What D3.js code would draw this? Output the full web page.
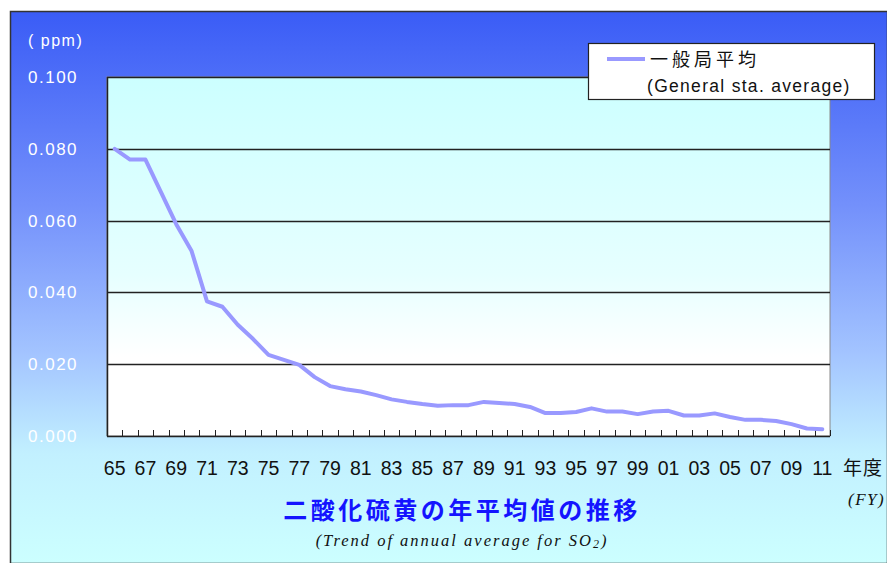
<!DOCTYPE html>
<html>
<head>
<meta charset="utf-8">
<script src="https://cdn.jsdelivr.net/npm/d3@7"></script>
<style>
    html, body { margin: 0; padding: 0; background: #fff; }
    svg { display: block; }
</style>
</head>
<body>
<div id="mainChart"></div>
<script>
// fiscal years 1965 - 2011
const years = d3.range(1965, 2012);
// 一般局平均 (ppm)
const so2Values = [
    0.080, 0.077, 0.077, 0.068, 0.059, 0.0515, 0.0375, 0.036, 0.031, 0.027,
    0.0226, 0.0212, 0.0198, 0.0164, 0.0139, 0.013, 0.0124, 0.0114, 0.0102, 0.0095,
    0.0089, 0.0084, 0.0086, 0.0086, 0.0095, 0.0092, 0.0089, 0.0081, 0.0064, 0.0064,
    0.0067, 0.0077, 0.0068, 0.0068, 0.0061, 0.0068, 0.007, 0.0057, 0.0057, 0.0063,
    0.0053, 0.0045, 0.0045, 0.0042, 0.0033, 0.0021, 0.0019
];
const yTicks = [0, 0.02, 0.04, 0.06, 0.08, 0.1];
const legendLabels = ['一般局平均', '(General sta. average)'];
const titleText = '二酸化硫黄の年平均値の推移';
const subtitleText = '(Trend of annual average for SO';

const width = 887, height = 563;
const margin = { top: 77, right: 57, bottom: 127, left: 107 };
const sansFont = 'Arial, "Liberation Sans", sans-serif';
const jpFont = '"Noto Sans CJK JP", sans-serif';
const serifFont = '"Liberation Serif", "DejaVu Serif", serif';

const svg = d3.select('#mainChart').append('svg')
    .attr('width', width)
    .attr('height', height);

const defs = svg.append('defs');
const bgGrad = defs.append('linearGradient')
    .attr('id', 'bgGrad').attr('x1', 0).attr('y1', 0).attr('x2', 0).attr('y2', 1);
bgGrad.append('stop').attr('offset', '0%').attr('stop-color', '#3a5cf6');
bgGrad.append('stop').attr('offset', '35%').attr('stop-color', '#7390fb');
bgGrad.append('stop').attr('offset', '62%').attr('stop-color', '#a3c4ff');
bgGrad.append('stop').attr('offset', '80%').attr('stop-color', '#c2f0ff');
bgGrad.append('stop').attr('offset', '100%').attr('stop-color', '#ccffff');

const plotGrad = defs.append('linearGradient')
    .attr('id', 'plotGrad').attr('x1', 0).attr('y1', 0).attr('x2', 0).attr('y2', 1);
plotGrad.append('stop').attr('offset', '0%').attr('stop-color', '#ccffff');
plotGrad.append('stop').attr('offset', '55%').attr('stop-color', '#e6ffff');
plotGrad.append('stop').attr('offset', '78%').attr('stop-color', '#ffffff');
plotGrad.append('stop').attr('offset', '100%').attr('stop-color', '#ffffff');

// outer frame
svg.append('rect')
    .attr('x', 10.5).attr('y', 11.5)
    .attr('width', width - 10).attr('height', height - 11)
    .attr('fill', 'url(#bgGrad)')
    .attr('stroke', '#333').attr('stroke-width', 1.5);

const x = d3.scaleBand()
    .domain(years)
    .range([margin.left, width - margin.right]);

const y = d3.scaleLinear()
    .domain([0, 0.1])
    .range([height - margin.bottom, margin.top]);

// plot area
svg.append('rect')
    .attr('x', margin.left).attr('y', margin.top)
    .attr('width', width - margin.left - margin.right)
    .attr('height', height - margin.top - margin.bottom)
    .attr('fill', 'url(#plotGrad)')
    .attr('stroke', '#888').attr('stroke-width', 1);

// grid lines
svg.append('g')
    .selectAll('line')
    .data(yTicks)
    .join('line')
    .attr('x1', margin.left).attr('x2', width - margin.right)
    .attr('y1', d => Math.round(y(d)) + 0.5).attr('y2', d => Math.round(y(d)) + 0.5)
    .attr('stroke', '#222').attr('stroke-width', 1.3);

// y labels
svg.append('g')
    .selectAll('text')
    .data(yTicks)
    .join('text')
    .attr('x', 28)
    .attr('y', d => y(d) + 6)
    .attr('fill', '#fff')
    .attr('font-family', sansFont)
    .attr('font-size', 17)
    .attr('letter-spacing', 1.5)
    .text(d => d3.format('.3f')(d));

svg.append('text')
    .attr('x', 28).attr('y', 46)
    .attr('fill', '#fff')
    .attr('font-family', sansFont)
    .attr('font-size', 16)
    .attr('letter-spacing', 1.5)
    .text('( ppm)');

// axes lines
svg.append('line')
    .attr('x1', margin.left + 0.5).attr('x2', margin.left + 0.5)
    .attr('y1', margin.top).attr('y2', height - margin.bottom)
    .attr('stroke', '#222').attr('stroke-width', 1.5);

// x ticks at band boundaries, pointing inward
const tickPos = years.slice(1).map(d => x(d));
tickPos.push(width - margin.right);
svg.append('g')
    .selectAll('line')
    .data(tickPos)
    .join('line')
    .attr('x1', d => Math.round(d) + 0.5).attr('x2', d => Math.round(d) + 0.5)
    .attr('y1', height - margin.bottom).attr('y2', height - margin.bottom - 6)
    .attr('stroke', '#222').attr('stroke-width', 1);

// x labels (odd years)
svg.append('g')
    .selectAll('text')
    .data(years.filter(d => d % 2 === 1))
    .join('text')
    .attr('x', d => x(d) + x.bandwidth() / 2)
    .attr('y', 475)
    .attr('text-anchor', 'middle')
    .attr('fill', '#111')
    .attr('font-family', sansFont)
    .attr('font-size', 19.5)
    .text(d => String(d % 100).padStart(2, '0'));

svg.append('text')
    .attr('x', 843).attr('y', 475)
    .attr('fill', '#111')
    .attr('font-family', jpFont)
    .attr('font-size', 19)
    .attr('letter-spacing', 1)
    .text('年度');

svg.append('text')
    .attr('x', 848).attr('y', 505)
    .attr('fill', '#111')
    .attr('font-family', serifFont)
    .attr('font-style', 'italic')
    .attr('font-size', 17)
    .attr('letter-spacing', 1.5)
    .text('(FY)');

// data line
const line = d3.line()
    .x((d, i) => x(years[i]) + x.bandwidth() / 2)
    .y(d => y(d));

svg.append('path')
    .datum(so2Values)
    .attr('fill', 'none')
    .attr('stroke', '#9999ff')
    .attr('stroke-width', 4)
    .attr('stroke-linejoin', 'round')
    .attr('stroke-linecap', 'round')
    .attr('d', line);

// legend
const legend = svg.append('g').attr('transform', 'translate(588,43)');
legend.append('rect')
    .attr('x', 0.5).attr('y', 0.5)
    .attr('width', 286).attr('height', 56)
    .attr('fill', '#fff')
    .attr('stroke', '#222').attr('stroke-width', 1.2);
legend.append('line')
    .attr('x1', 19).attr('x2', 57)
    .attr('y1', 16).attr('y2', 16)
    .attr('stroke', '#9999ff').attr('stroke-width', 4);
legend.append('text')
    .attr('x', 62).attr('y', 23)
    .attr('fill', '#111')
    .attr('font-family', jpFont)
    .attr('font-size', 18)
    .attr('letter-spacing', 4)
    .text(legendLabels[0]);
legend.append('text')
    .attr('x', 59).attr('y', 49)
    .attr('fill', '#111')
    .attr('font-family', sansFont)
    .attr('font-size', 17.5)
    .attr('letter-spacing', 1.3)
    .text(legendLabels[1]);

// title
svg.append('text')
    .attr('x', 462).attr('y', 519)
    .attr('text-anchor', 'middle')
    .attr('fill', '#1414ff')
    .attr('font-family', jpFont)
    .attr('font-weight', 'bold')
    .attr('font-size', 24)
    .attr('letter-spacing', 3.5)
    .text(titleText);

const sub = svg.append('text')
    .attr('x', 462).attr('y', 546)
    .attr('text-anchor', 'middle')
    .attr('fill', '#111')
    .attr('font-family', serifFont)
    .attr('font-style', 'italic')
    .attr('font-size', 16.5)
    .attr('letter-spacing', 2);
sub.append('tspan').text(subtitleText);
sub.append('tspan').attr('font-size', 12).attr('dy', 2).text('2');
sub.append('tspan').attr('dy', -2).text(')');
</script>
</body>
</html>
